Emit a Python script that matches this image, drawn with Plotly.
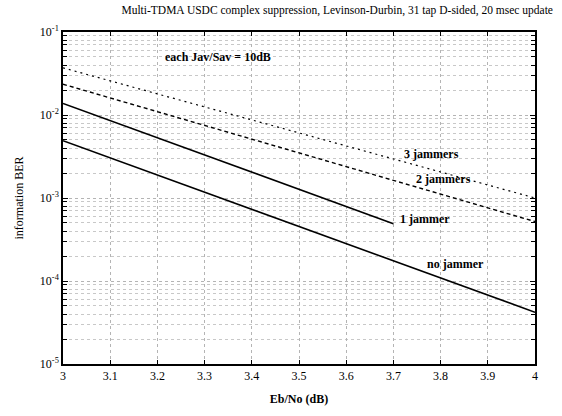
import math
import plotly.graph_objects as go

ebno_full = [3.0, 4.0]
ebno_1j = [3.0, 3.7]
ber_no_jammer = [4.9e-3, 4.2e-5]
ber_1_jammer = [1.38e-2, 4.9e-4]
ber_2_jammers = [2.35e-2, 5.2e-4]
ber_3_jammers = [3.7e-2, 1.0e-3]

x_ticks = [3.0, 3.1, 3.2, 3.3, 3.4, 3.5, 3.6, 3.7, 3.8, 3.9, 4.0]
x_ticktext = ["3", "3.1", "3.2", "3.3", "3.4", "3.5", "3.6", "3.7", "3.8", "3.9", "4"]
y_ticks = [1e-5, 1e-4, 1e-3, 1e-2, 1e-1]
y_ticktext = ["10<sup>-5</sup>", "10<sup>-4</sup>", "10<sup>-3</sup>", "10<sup>-2</sup>", "10<sup>-1</sup>"]

labels = [
    ("3 jammers", 3.72, 3.35e-3),
    ("2 jammers", 3.745, 1.7e-3),
    ("1 jammer", 3.712, 5.6e-4),
    ("no jammer", 3.77, 1.62e-4),
]

FONT = "Liberation Serif, Times New Roman, serif"
fig = go.Figure()
line = dict(color="black", width=1.6)
fig.add_trace(go.Scatter(x=ebno_full, y=ber_no_jammer, mode="lines", line=line))
fig.add_trace(go.Scatter(x=ebno_1j, y=ber_1_jammer, mode="lines", line=line))
fig.add_trace(go.Scatter(x=ebno_full, y=ber_2_jammers, mode="lines",
                         line=dict(color="black", width=1.4, dash="4px,3px")))
fig.add_trace(go.Scatter(x=ebno_full, y=ber_3_jammers, mode="lines",
                         line=dict(color="black", width=1.2, dash="2px,4px")))

for text, x, y in labels:
    fig.add_annotation(x=x, y=math.log10(y), xref="x", yref="y", yanchor="middle", xanchor="left",
                       text="<b>" + text + "</b>", showarrow=False,
                       font=dict(family=FONT, size=12, color="black"), borderpad=0)
fig.add_annotation(x=3.215, y=math.log10(0.05), xref="x", yref="y", xanchor="left", yanchor="middle",
                   text="<b>each Jav/Sav = 10dB</b>", showarrow=False,
                   font=dict(family=FONT, size=12, color="black"), borderpad=0)

fig.update_layout(
    width=562, height=416,
    margin=dict(l=63, r=27, t=32, b=48),
    paper_bgcolor="white", plot_bgcolor="white",
    showlegend=False,
    title=dict(text="Multi-TDMA USDC complex suppression, Levinson-Durbin, 31 tap D-sided, 20 msec update",
               x=0.6, xanchor="center", y=0.985, yanchor="top",
               font=dict(family=FONT, size=11.5, color="black")),
    font=dict(family=FONT, size=12, color="black"),
)
fig.update_xaxes(
    range=[3, 4], tickvals=x_ticks, ticktext=x_ticktext,
    showline=True, linecolor="black", linewidth=1.5, mirror="ticks",
    ticks="inside", ticklen=4, tickcolor="black",
    showgrid=True, gridcolor="#b4b4b4", griddash="dot", gridwidth=1,
    zeroline=False,
    title=dict(text="<b>Eb/No (dB)</b>", font=dict(family=FONT, size=12), standoff=12),
    tickfont=dict(family=FONT, size=12),
)
fig.update_yaxes(
    type="log", range=[-5, -1], tickvals=y_ticks, ticktext=y_ticktext,
    showline=True, linecolor="black", linewidth=1.5, mirror="ticks",
    ticks="inside", ticklen=5, tickcolor="black",
    showgrid=True, gridcolor="#b4b4b4", griddash="dot", gridwidth=1,
    minor=dict(ticks="inside", ticklen=4, tickcolor="black", showgrid=True,
               gridcolor="#c8c8c8", griddash="dot", dtick="D1"),
    zeroline=False,
    title=dict(text="information BER", font=dict(family=FONT, size=12), standoff=14),
    tickfont=dict(family=FONT, size=12),
)

fig.write_html("out.html")
